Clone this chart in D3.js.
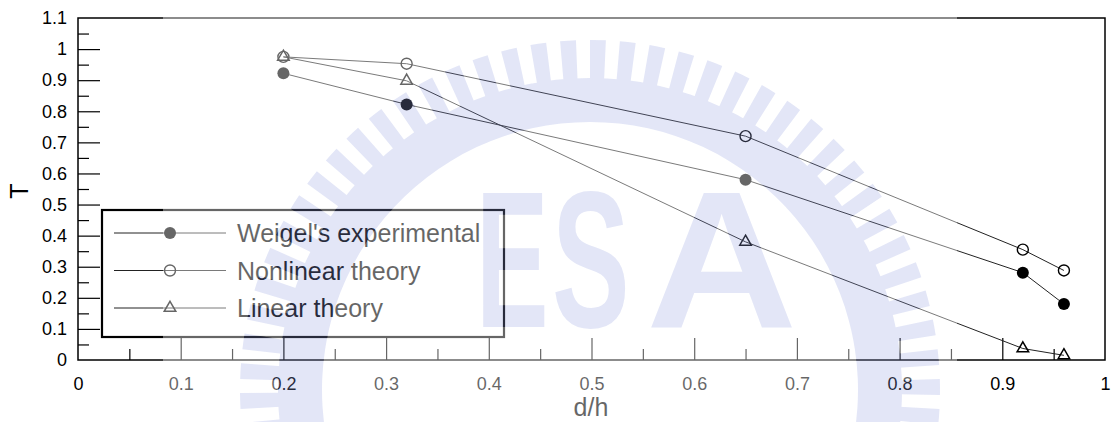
<!DOCTYPE html>
<html>
<head>
<meta charset="utf-8">
<script src="https://cdn.jsdelivr.net/npm/d3@7"></script>
<style>
  body { margin: 0; background: #fff; }
  text { font-family: "Liberation Sans", Arial, sans-serif; }
</style>
</head>
<body>
<div id="wrapper"></div>
<script>
// data
const dh = [0.2, 0.32, 0.65, 0.92, 0.96]
const weigelT = [0.922, 0.822, 0.58, 0.281, 0.18]
const nonlinearT = [0.975, 0.953, 0.72, 0.355, 0.288]
const linearT = [0.975, 0.898, 0.38, 0.037, 0.015]

const seriesNames = ["Weigel's experimental", "Nonlinear theory", "Linear theory"]

const xTickValues = [0, 0.1, 0.2, 0.3, 0.4, 0.5, 0.6, 0.7, 0.8, 0.9, 1]
const xTickLabels = ["0", "0.1", "0.2", "0.3", "0.4", "0.5", "0.6", "0.7", "0.8", "0.9", "1"]
const yTickValues = [0, 0.1, 0.2, 0.3, 0.4, 0.5, 0.6, 0.7, 0.8, 0.9, 1, 1.1]
const yTickLabels = ["0", "0.1", "0.2", "0.3", "0.4", "0.5", "0.6", "0.7", "0.8", "0.9", "1", "1.1"]
const xMinor = [0.05, 0.15, 0.25, 0.35, 0.45, 0.55, 0.65, 0.75, 0.85, 0.95]
const yMinor = [0.05, 0.15, 0.25, 0.35, 0.45, 0.55, 0.65, 0.75, 0.85, 0.95, 1.05]

function drawChart() {

  // 1. dimensions
  const dimensions = {
    width: 1116,
    height: 422,
    margin: { top: 18, right: 11, bottom: 62, left: 78 },
  }
  dimensions.boundedWidth = dimensions.width - dimensions.margin.left - dimensions.margin.right
  dimensions.boundedHeight = dimensions.height - dimensions.margin.top - dimensions.margin.bottom

  // 2. canvas
  const svg = d3.select("#wrapper")
    .append("svg")
      .attr("width", dimensions.width)
      .attr("height", dimensions.height)

  const bounds = svg.append("g")
      .attr("transform", `translate(${dimensions.margin.left},${dimensions.margin.top})`)

  // 3. scales
  const xScale = d3.scaleLinear()
    .domain([0, 1])
    .range([0, dimensions.boundedWidth])

  const yScale = d3.scaleLinear()
    .domain([0, 1.1])
    .range([dimensions.boundedHeight, 0])

  // 4. axes (ticks point inward)
  const xAxis = bounds.append("g")
      .attr("transform", `translate(0,${dimensions.boundedHeight})`)
    .call(d3.axisBottom(xScale)
      .tickValues(xTickValues)
      .tickSize(-22)
      .tickPadding(17)
      .tickFormat((d, i) => xTickLabels[i]))
  bounds.append("g")
      .attr("transform", `translate(0,${dimensions.boundedHeight})`)
    .call(d3.axisBottom(xScale).tickValues(xMinor).tickSize(-11).tickFormat(""))

  const yAxis = bounds.append("g")
    .call(d3.axisLeft(yScale)
      .tickValues(yTickValues)
      .tickSize(-22)
      .tickPadding(11)
      .tickFormat((d, i) => yTickLabels[i]))
  bounds.append("g")
    .call(d3.axisLeft(yScale).tickValues(yMinor).tickSize(-11).tickFormat(""))

  bounds.selectAll(".domain").remove()
  bounds.selectAll(".tick line").attr("stroke", "#000").attr("stroke-width", 1.2)
  bounds.selectAll(".tick text")
      .attr("font-size", 18)
      .attr("font-family", "Liberation Sans, Arial, sans-serif")
      .attr("fill", "#000")
  // the edge ticks sit on the frame
  xAxis.selectAll(".tick line").filter(d => d === 0 || d === 1).remove()
  yAxis.selectAll(".tick line").filter(d => d === 0 || d === 1.1).remove()

  // frame
  bounds.append("rect")
      .attr("width", dimensions.boundedWidth)
      .attr("height", dimensions.boundedHeight)
      .attr("fill", "none")
      .attr("stroke", "#000")
      .attr("stroke-width", 1.5)

  // 5. data
  const series = [
    { name: seriesNames[0], values: weigelT, marker: "filled" },
    { name: seriesNames[1], values: nonlinearT, marker: "circle" },
    { name: seriesNames[2], values: linearT, marker: "triangle" },
  ]

  const lineGenerator = d3.line()
    .x(d => xScale(d[0]))
    .y(d => yScale(d[1]))

  const triangle = d3.symbol(d3.symbolTriangle).size(58)

  function drawMarker(sel, kind) {
    if (kind === "filled") {
      sel.append("circle").attr("r", 6).attr("fill", "#000")
    } else if (kind === "circle") {
      sel.append("circle").attr("r", 5.5)
        .attr("fill", "none").attr("stroke", "#000").attr("stroke-width", 1.4)
    } else {
      sel.append("path").attr("d", triangle())
        .attr("fill", "none").attr("stroke", "#000").attr("stroke-width", 1.5)
    }
  }

  series.forEach(s => {
    const pts = dh.map((x, i) => [x, s.values[i]])
    bounds.append("path")
        .attr("d", lineGenerator(pts))
        .attr("fill", "none")
        .attr("stroke", "#222")
        .attr("stroke-width", 1)
    pts.forEach(p => {
      const g = bounds.append("g")
          .attr("transform", `translate(${xScale(p[0])},${yScale(p[1])})`)
      drawMarker(g, s.marker)
    })
  })

  // 6. legend
  const legend = svg.append("g")
  legend.append("rect")
      .attr("x", 102)
      .attr("y", 210)
      .attr("width", 402)
      .attr("height", 127)
      .attr("fill", "#fff")
      .attr("stroke", "#000")
      .attr("stroke-width", 2.2)

  series.forEach((s, i) => {
    const y = 233 + i * 37.5
    legend.append("line")
        .attr("x1", 114).attr("x2", 226)
        .attr("y1", y).attr("y2", y)
        .attr("stroke", "#222").attr("stroke-width", 1)
    drawMarker(legend.append("g").attr("transform", `translate(170,${y})`), s.marker)
    legend.append("text")
        .attr("x", 237)
        .attr("y", y + 9)
        .attr("font-size", 25)
        .attr("fill", "#000")
        .text(s.name)
  })

  // axis titles
  svg.append("text")
      .attr("x", 591)
      .attr("y", 416)
      .attr("text-anchor", "middle")
      .attr("font-size", 25)
      .text("d/h")

  svg.append("text")
      .attr("transform", "translate(28,191) rotate(-90)")
      .attr("text-anchor", "middle")
      .attr("font-size", 25)
      .text("T")

  // 7. watermark over the middle of the page
  const defs = svg.append("defs")
  const logo = defs.append("g").attr("id", "logo")
  const cx = 590, cy = 390
  logo.append("path")
      .attr("transform", `translate(${cx},${cy})`)
      .attr("d", d3.arc()({ innerRadius: 268, outerRadius: 312,
        startAngle: -100 * Math.PI / 180, endAngle: 100 * Math.PI / 180 }))
  d3.range(-98, 99, 4.9).forEach(a => {
    logo.append("path")
        .attr("transform", `translate(${cx},${cy})`)
        .attr("d", d3.arc()({ innerRadius: 310, outerRadius: 350,
          startAngle: a * Math.PI / 180, endAngle: (a + 2.6) * Math.PI / 180 }))
  })
  const letters = [
    { t: "E", x: 476, sx: 0.56 },
    { t: "S", x: 552, sx: 0.6 },
    { t: "A", x: 646, sx: 1.08 },
  ]
  letters.forEach(l => {
    logo.append("text")
        .attr("transform", `translate(${l.x},327) scale(${l.sx},1)`)
        .attr("font-size", 194)
        .attr("font-weight", "bold")
        .text(l.t)
  })

  const mask = defs.append("mask").attr("id", "logo-hole")
  mask.append("rect").attr("width", 1116).attr("height", 422).attr("fill", "#fff")
  mask.append("use").attr("href", "#logo").attr("fill", "#000")

  svg.append("rect")
      .attr("x", 163)
      .attr("y", 0)
      .attr("width", 794)
      .attr("height", 422)
      .attr("fill", "#fff")
      .attr("opacity", 0.4)
      .attr("mask", "url(#logo-hole)")

  svg.append("use")
      .attr("href", "#logo")
      .attr("fill", "rgb(150,162,225)")
      .attr("opacity", 0.27)
}
drawChart()
</script>
</body>
</html>
